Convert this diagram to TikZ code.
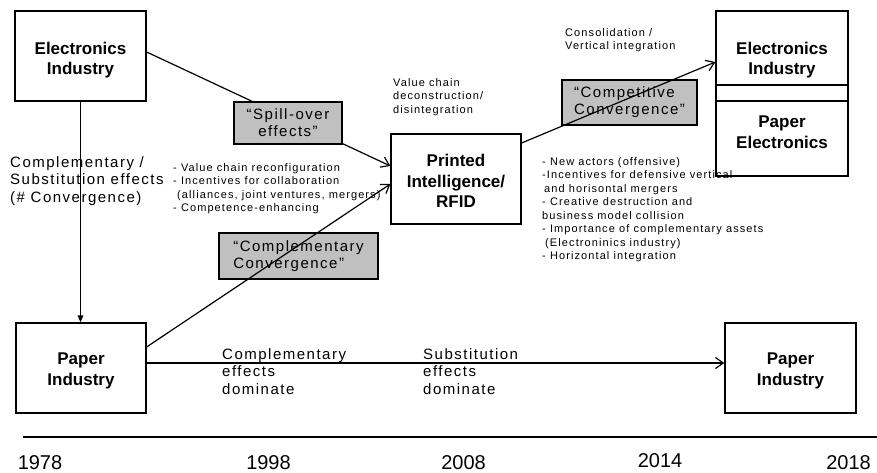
\documentclass[tikz,border=0pt]{standalone}
\usepackage{fontspec}
\setmainfont{Liberation Sans}
\newfontfamily\spaced[LetterSpace=10]{Liberation Sans}
\usetikzlibrary{arrows.meta}
\definecolor{boxgray}{HTML}{C0C0C0}
\tikzset{
  frame/.style={draw=black, line width=1.2pt, fill=white, inner sep=0pt},
  heavy/.style={font=\fontsize{17}{20.5}\selectfont\bfseries, align=center},
  grey/.style={draw=black, line width=1.1pt, fill=boxgray, inner sep=0pt,
    font=\spaced\fontsize{15}{17}\selectfont},
  note/.style={anchor=north west, inner sep=0pt, align=left,
    font=\spaced\fontsize{11}{13.5}\selectfont},
  mid/.style={anchor=north west, inner sep=0pt, align=left,
    font=\spaced\fontsize{15}{17.5}\selectfont},
  year/.style={inner sep=0pt, font=\fontsize{20}{24}\selectfont},
  link/.style={line width=1.2pt, -{Straight Barb[length=8pt,width=11pt]}},
}
\begin{document}
\begin{tikzpicture}[x=1pt, y=-1pt]
\useasboundingbox (0,0) rectangle (877,473);

% industry boxes (titles set slightly below the box centre)
\node[frame, minimum width=131pt, minimum height=90pt,
  label={[heavy, yshift=-4pt]center:Electronics\\Industry}] (ei) at (80.5,56) {};
\node[frame, minimum width=130pt, minimum height=90pt,
  label={[heavy, yshift=-3pt]center:Paper\\Industry}] (pp) at (81,368) {};
\node[frame, minimum width=130pt, minimum height=90pt,
  label={[heavy, yshift=-2pt]center:Printed\\Intelligence/\\RFID}] (pi) at (456,179) {};
\node[frame, minimum width=131pt, minimum height=90pt,
  label={[heavy, yshift=-3pt]center:Paper\\Industry}] (pp2) at (790.5,368) {};

% stacked box on the right
\node[frame, minimum width=132pt, minimum height=74pt] (eitop) at (782,48) {};
\node[frame, minimum width=132pt, minimum height=16pt] (band) at (782,93) {};
\node[frame, minimum width=132pt, minimum height=75pt] (pe) at (782,138.5) {};
\node[heavy, inner sep=0pt] (eitext) at (782,60) {Electronics\\Industry};
\node[heavy, inner sep=0pt] (petext) at (782,132) {Paper\\Electronics};

% grey labels lying under the connectors
\node[grey, minimum width=135pt, minimum height=45pt, align=left] (cc) at (629.5,102.5) {“Competitive\\Convergence”};
\node[grey, minimum width=159pt, minimum height=46pt, align=left] (comp) at (298.5,256) {“Complementary\\Convergence”};

% connectors
\draw[link] ([yshift=4pt]ei.east) -- ([yshift=13pt]pi.west);
\draw[link] ([yshift=21pt]pp.east) -- ([yshift=-5pt]pi.west);
\draw[link] ([yshift=36pt]pi.east) -- ([yshift=-14pt]eitop.west);
\draw[link] ([yshift=5pt]pp.east) -- ([yshift=5pt]pp2.west);
\draw[line width=1.2pt, -{Triangle[length=7pt,width=5.5pt]}] (ei.south) -- (ei.south |- pp.north);

% grey label covering its connector
\node[grey, minimum width=108pt, minimum height=42pt, align=center] (so) at (288,123) {“Spill-over\\effects”};

% annotations
\node[note] (cons) at (565,26.5) {\strut Consolidation /\\Vertical integration};
\node[note] (vcd) at (393,76.5) {\strut Value chain\\deconstruction/\\disintegration};
\node[note] (leftlist) at (173,161.5) {\strut - Value chain reconfiguration\\- Incentives for collaboration\\\hspace*{4pt}(alliances, joint ventures, mergers)\\- Competence-enhancing};
\node[note] (rightlist) at (542,155.5) {\strut - New actors (offensive)\\-Incentives for defensive vertical\\\hspace*{2pt}and horisontal mergers\\- Creative destruction and\\business model collision\\- Importance of complementary assets\\\hspace*{3pt}(Electroninics industry)\\- Horizontal integration};
\node[mid] (cse) at (10,155) {\strut Complementary /\\Substitution effects\\(\# Convergence)};
\node[mid] (ced) at (222,347) {\strut Complementary\\effects\\dominate};
\node[mid] (sed) at (423,347) {\strut Substitution\\effects\\dominate};

% time axis
\coordinate (t0) at (23,437);
\coordinate (t1) at (877,437);
\draw[line width=1.2pt] (t0) -- (t1);
\node[year] (y1978) at (40,463) {1978};
\node[year] (y1998) at (268.5,463) {1998};
\node[year] (y2008) at (463.5,463) {2008};
\node[year] (y2014) at (660,461) {2014};
\node[year] (y2018) at (848.5,463) {2018};
\end{tikzpicture}
\end{document}
